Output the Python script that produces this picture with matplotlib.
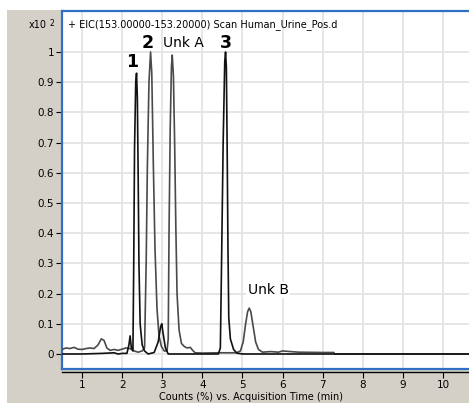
import numpy as np
import matplotlib
matplotlib.use("Agg")
import matplotlib.pyplot as plt
from matplotlib.patches import Rectangle

# trace 1 (black): peaks 1 and 3, flat baseline
t_std = [0.50, 1.00, 1.50, 1.80, 1.90, 2.00, 2.12, 2.17, 2.20, 2.23, 2.27, 2.29, 2.31, 2.34, 2.36,
         2.38, 2.40, 2.42, 2.45, 2.50, 2.56, 2.65, 2.80, 2.90, 2.96, 2.99, 3.02, 3.08, 3.15,
         4.00, 4.40, 4.45, 4.48, 4.52, 4.56, 4.58, 4.60, 4.62, 4.64, 4.66, 4.70, 4.78, 4.86,
         5.00, 8.00, 10.95]
y_std = [0.000, 0.000, 0.002, 0.004, 0.000, 0.002, 0.002, 0.030, 0.060, 0.020, 0.010, 0.300, 0.680, 0.900, 0.930,
         0.850, 0.600, 0.300, 0.100, 0.030, 0.010, 0.000, 0.005, 0.040, 0.090, 0.100, 0.070, 0.020, 0.000,
         0.000, 0.000, 0.020, 0.300, 0.700, 0.970, 1.000, 0.950, 0.680, 0.350, 0.120, 0.050, 0.015, 0.003,
         0.000, 0.000, 0.000]

# trace 2 (grey): urine sample, peak 2, Unk A, Unk B, noisy baseline
t_smp = [0.50, 0.60, 0.70, 0.80, 0.90, 1.00, 1.10, 1.20, 1.30, 1.40, 1.48, 1.55, 1.62, 1.70, 1.80,
         1.90, 2.00, 2.10, 2.20, 2.30, 2.40, 2.50, 2.56, 2.60, 2.63, 2.67, 2.71, 2.74, 2.78,
         2.82, 2.87, 2.92, 2.98, 3.05, 3.12, 3.15, 3.17, 3.20, 3.23, 3.25, 3.28, 3.31, 3.34,
         3.37, 3.42, 3.48, 3.55, 3.62, 3.70, 3.76, 3.82, 4.00, 4.40, 4.85, 4.95, 5.02, 5.08,
         5.13, 5.17, 5.21, 5.27, 5.33, 5.40, 5.50, 5.70, 5.90, 6.00, 6.20, 6.40, 7.00, 7.28,
         7.30, 10.95]
y_smp = [0.015, 0.020, 0.018, 0.022, 0.016, 0.015, 0.018, 0.020, 0.018, 0.030, 0.050, 0.045, 0.020, 0.012, 0.015,
         0.012, 0.016, 0.020, 0.018, 0.010, 0.006, 0.010, 0.020, 0.300, 0.620, 0.900, 1.000, 0.930, 0.620,
         0.350, 0.150, 0.060, 0.025, 0.010, 0.010, 0.050, 0.400, 0.750, 0.950, 0.990, 0.920, 0.700, 0.420,
         0.200, 0.080, 0.035, 0.025, 0.020, 0.022, 0.012, 0.004, 0.003, 0.004, 0.004, 0.010, 0.040, 0.100,
         0.140, 0.152, 0.140, 0.090, 0.040, 0.015, 0.006, 0.008, 0.006, 0.010, 0.008, 0.006, 0.005, 0.005,
         0.000, 0.000]

peak_labels = ["1", "2", "Unk A", "3", "Unk B"]
peak_pos = [(2.26, 0.967), (2.646, 1.03), (3.54, 1.03), (4.59, 1.03), (5.64, 0.212)]

x_ticks = list(range(1, 11))
y_ticks = [0, 0.1, 0.2, 0.3, 0.4, 0.5, 0.6, 0.7, 0.8, 0.9, 1.0]
y_ticklabels = ["0", "0.1", "0.2", "0.3", "0.4", "0.5", "0.6", "0.7", "0.8", "0.9", "1"]

W, H = 469, 403
fig = plt.figure(figsize=(W / 100, H / 100), dpi=100)
fig.patch.set_facecolor("white")
fig.patches.append(Rectangle((7 / W, 0), 1, (H - 10) / H, transform=fig.transFigure,
                             facecolor="#d4d0c8", edgecolor="none", zorder=-5))

ax = fig.add_axes([62 / W, (H - 369) / H, (480 - 62) / W, (369 - 11) / H])
ax.set_facecolor("white")
ax.plot(t_smp, y_smp, color="#4a4a4a", lw=1.2, zorder=3)
ax.plot(t_std, y_std, color="#111111", lw=1.2, zorder=4)

ax.set_xlim(0.5012, 10.925)
ax.set_ylim(-0.0497, 1.1358)
ax.set_xticks(x_ticks)
ax.set_yticks(y_ticks)
ax.set_yticklabels(y_ticklabels)
ax.grid(True, color="#e4e4e4", lw=1.3, zorder=0)
ax.set_axisbelow(True)
ax.tick_params(axis="x", which="both", length=0, labelbottom=False)
ax.tick_params(axis="y", length=4, width=0.8, labelsize=7.5, pad=1.5, color="black")

for s in ["left", "top", "bottom"]:
    ax.spines[s].set_color("#2f6fc4")
    ax.spines[s].set_linewidth(1.6)
ax.spines["right"].set_visible(False)

sec = ax.secondary_xaxis(-3 / 358)
sec.set_xticks(x_ticks)
sec.spines["bottom"].set_color("black")
sec.spines["bottom"].set_linewidth(1.0)
sec.tick_params(length=4, width=0.8, labelsize=7.5, pad=1.5)

fig.text(251 / W, 1 - 397 / H, "Counts (%) vs. Acquisition Time (min)", fontsize=7,
         ha="center", va="center")
fig.text(47 / W, 1 - 25 / H, "x10", fontsize=7, ha="right", va="center")
fig.text(49 / W, 1 - 23 / H, "2", fontsize=5.5, ha="left", va="center")
fig.text(68 / W, 1 - 25 / H, "+ EIC(153.00000-153.20000) Scan Human_Urine_Pos.d", fontsize=7,
         ha="left", va="center")

for lab, (px, py) in zip(peak_labels, peak_pos):
    if lab.startswith("Unk"):
        kw = dict(fontsize=10, fontweight="normal")
        if lab == "Unk B":
            kw["bbox"] = dict(facecolor="white", edgecolor="none", pad=1)
    else:
        kw = dict(fontsize=12.5, fontweight="bold")
    ax.text(px, py, lab, ha="center", va="center", zorder=6, **kw)

fig.savefig("out.png", dpi=100)
